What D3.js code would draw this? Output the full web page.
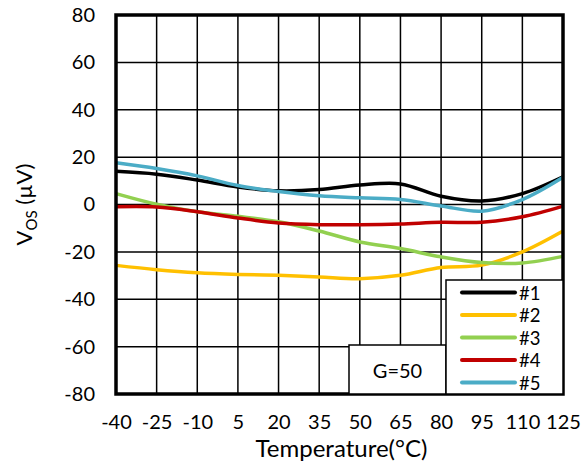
<!DOCTYPE html>
<html>
<head>
<meta charset="utf-8">
<script src="https://cdn.jsdelivr.net/npm/d3@7"></script>
<style>
  html, body { margin: 0; padding: 0; background: #fff; }
  svg { display: block; font-family: Lato, "Noto Sans", sans-serif; }
</style>
</head>
<body>
<svg id="chart" width="587" height="464"></svg>
<script>
// Temperature sweep (°C) and offset voltage (µV) for five units at G=50
const temps = [-40, -25, -10, 5, 20, 35, 50, 65, 80, 95, 110, 125];
const unit1 = [14, 12.8, 10.3, 7.4, 5.8, 6.3, 8.2, 8.7, 3.5, 1.5, 4.6, 11.7];
const unit2 = [-25.7, -27.5, -28.8, -29.5, -29.9, -30.6, -31.3, -29.9, -26.6, -25.6, -20, -11.2];
const unit3 = [4.6, 0.1, -3.1, -5, -7.3, -11.2, -15.8, -18.6, -22.1, -24.5, -24.7, -21.9];
const unit4 = [-1, -1.1, -3.1, -5.7, -7.8, -8.5, -8.5, -8.2, -7.5, -7.5, -5.2, -0.7];
const unit5 = [17.6, 15.2, 12.1, 8, 5.5, 3.7, 2.8, 2.1, -0.6, -2.8, 2.1, 11.5];
const seriesNames = ["#1", "#2", "#3", "#4", "#5"];
const seriesColors = ["#000000", "#FFC000", "#92D050", "#C00000", "#4BACC6"];
const xTicks = [-40, -25, -10, 5, 20, 35, 50, 65, 80, 95, 110, 125];
const yTicks = [-80, -60, -40, -20, 0, 20, 40, 60, 80];
const gainLabel = "G=50";

const seriesValues = [unit1, unit2, unit3, unit4, unit5];

const svg = d3.select("#chart");
const m = { left: 116, right: 563, top: 15, bottom: 394 };

const x = d3.scaleLinear().domain([-40, 125]).range([m.left, m.right]);
const y = d3.scaleLinear().domain([-80, 80]).range([m.bottom, m.top]);

// grid
const grid = svg.append("g");
grid.selectAll(".vg").data(xTicks).join("line")
  .attr("x1", d => x(d)).attr("x2", d => x(d))
  .attr("y1", m.top).attr("y2", m.bottom)
  .attr("stroke", "#000").attr("stroke-width", 1.5);
grid.selectAll(".hg").data(yTicks).join("line")
  .attr("x1", m.left).attr("x2", m.right)
  .attr("y1", d => y(d)).attr("y2", d => y(d))
  .attr("stroke", "#000").attr("stroke-width", 1.5);

// series
const line = d3.line()
  .x(d => x(d[0])).y(d => y(d[1]))
  .curve(d3.curveCatmullRom.alpha(0.5));

svg.append("g").selectAll("path")
  .data(seriesValues)
  .join("path")
  .attr("d", vals => line(temps.map((t, i) => [t, vals[i]])))
  .attr("fill", "none")
  .attr("stroke", (d, i) => seriesColors[i])
  .attr("stroke-width", 3.5);

// axes tick labels (plain hyphen for negatives)
const plain = d => String(d);
const xAxis = d3.axisBottom(x).tickValues(xTicks).tickFormat(plain).tickSize(0).tickPadding(21);
const gx = svg.append("g").attr("transform", `translate(0,${m.bottom})`).call(xAxis);
gx.select(".domain").remove();
gx.selectAll("text").attr("font-size", 20).attr("font-family", "Lato").attr("fill", "#000");

const yAxis = d3.axisLeft(y).tickValues(yTicks).tickFormat(plain).tickSize(0).tickPadding(21);
const gy = svg.append("g").attr("transform", `translate(${m.left},0)`).call(yAxis);
gy.select(".domain").remove();
gy.selectAll("text").attr("font-size", 20).attr("font-family", "Lato").attr("fill", "#000");

// plot frame
svg.append("rect")
  .attr("x", m.left).attr("y", m.top)
  .attr("width", m.right - m.left).attr("height", m.bottom - m.top)
  .attr("fill", "none").attr("stroke", "#000").attr("stroke-width", 3.5);

// gain box
const gBox = { x0: 349, x1: 446, y0: 345 };
svg.append("rect")
  .attr("x", gBox.x0).attr("y", gBox.y0)
  .attr("width", gBox.x1 - gBox.x0).attr("height", m.bottom - gBox.y0)
  .attr("fill", "#fff").attr("stroke", "#000").attr("stroke-width", 1.5);
svg.append("text")
  .attr("x", (gBox.x0 + gBox.x1) / 2).attr("y", (gBox.y0 + m.bottom) / 2)
  .attr("text-anchor", "middle").attr("dominant-baseline", "central")
  .attr("font-size", 20).attr("font-family", "Lato")
  .text(gainLabel);

// legend
const lg = { x0: 446, y0: 280, row0: 292.5, step: 22.5 };
svg.append("rect")
  .attr("x", lg.x0).attr("y", lg.y0)
  .attr("width", m.right - lg.x0).attr("height", m.bottom - lg.y0)
  .attr("fill", "#fff").attr("stroke", "#000").attr("stroke-width", 1.5);
const items = svg.append("g").selectAll("g").data(seriesNames).join("g")
  .attr("transform", (d, i) => `translate(0,${lg.row0 + i * lg.step})`);
items.append("line")
  .attr("x1", 462).attr("x2", 515).attr("y1", 0).attr("y2", 0)
  .attr("stroke", (d, i) => seriesColors[i]).attr("stroke-width", 4)
  .attr("stroke-linecap", "round");
items.append("text")
  .attr("x", 519).attr("y", 0).attr("dominant-baseline", "central")
  .attr("font-size", 18.5).attr("font-family", "Lato")
  .text(d => d);

// axis titles
svg.append("text")
  .attr("x", (m.left + m.right) / 2 + 2).attr("y", 457)
  .attr("text-anchor", "middle")
  .attr("font-size", 24).attr("font-family", "Lato")
  .text("Temperature(°C)");

const yt = svg.append("text")
  .attr("transform", `translate(32,${(m.top + m.bottom) / 2}) rotate(-90)`)
  .attr("text-anchor", "middle")
  .attr("font-size", 22).attr("font-family", "Lato");
yt.append("tspan").text("V");
yt.append("tspan").attr("font-size", 15).attr("dy", 5).text("OS");
yt.append("tspan").attr("dy", -5).text(" (µV)");
</script>
</body>
</html>
